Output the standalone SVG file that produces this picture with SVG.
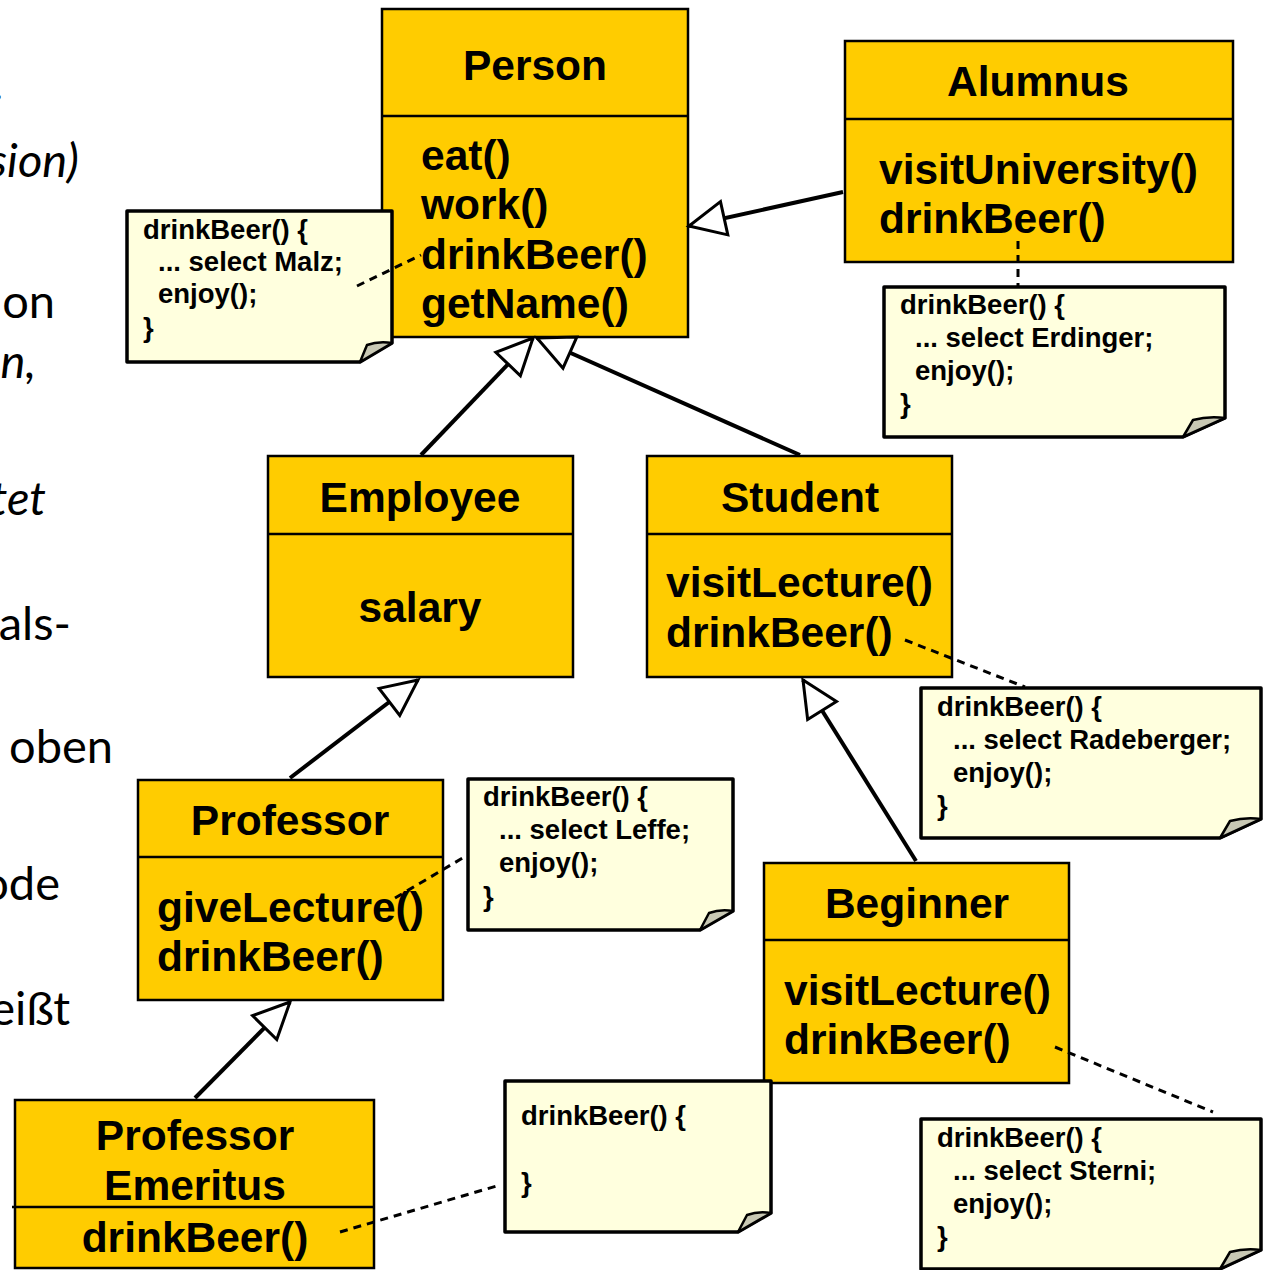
<svg xmlns="http://www.w3.org/2000/svg" width="1263" height="1270" viewBox="0 0 1263 1270">
<defs>
<style>
.box{fill:#FFCC00;stroke:#000;stroke-width:2.5}
.div{stroke:#000;stroke-width:2.5}
.t{font-family:"Liberation Sans",Arial,sans-serif;font-weight:bold;font-size:42.5px;fill:#000}
.c{text-anchor:middle}
.note{fill:#FFFFDE;stroke:#000;stroke-width:3.5;stroke-linejoin:round}
.fold{fill:#C8C8B4;stroke:#000;stroke-width:2.5;stroke-linejoin:round}
.n{font-family:"Liberation Sans",Arial,sans-serif;font-weight:bold;font-size:27.5px;fill:#000}
.inh{stroke:#000;stroke-width:4;fill:none;marker-end:url(#tri)}
.dash{stroke:#000;stroke-width:3;fill:none;stroke-dasharray:8 6}
.side{font-family:Lato,"Open Sans",sans-serif;font-size:47px;fill:#000;text-anchor:end}
</style>
<marker id="tri" viewBox="0 0 40 40" refX="37" refY="20" markerWidth="40" markerHeight="40" markerUnits="userSpaceOnUse" orient="auto" overflow="visible">
<path d="M37,20 L1,3 L1,37 Z" fill="#fff" stroke="#000" stroke-width="3" stroke-linejoin="miter"/>
</marker>
</defs>
<rect width="1263" height="1270" fill="#fff"/>

<g id="sidetext">
<text class="side" x="3" y="100">.</text>
<text class="side" x="79" y="177" font-style="italic">sion)</text>
<text class="side" x="55" y="318">on</text>
<text class="side" x="36" y="378" font-style="italic">n,</text>
<text class="side" x="46" y="515" font-style="italic">tet</text>
<text class="side" x="71" y="640">als-</text>
<text class="side" x="113" y="763">oben</text>
<text class="side" x="60" y="900">ode</text>
<text class="side" x="70" y="1025">eißt</text>
</g>

<g id="Person">
<rect class="box" x="382" y="9" width="306" height="328"/>
<line class="div" x1="382" y1="116" x2="688" y2="116"/>
<text class="t c" x="535" y="80">Person</text>
<text class="t" x="421" y="170">eat()</text>
<text class="t" x="421" y="219">work()</text>
<text class="t" x="421" y="269">drinkBeer()</text>
<text class="t" x="421" y="318">getName()</text>
</g>

<g id="Alumnus">
<rect class="box" x="845" y="41" width="388" height="221"/>
<line class="div" x1="845" y1="119" x2="1233" y2="119"/>
<text class="t c" x="1038" y="96">Alumnus</text>
<text class="t" x="879" y="184">visitUniversity()</text>
<text class="t" x="879" y="233">drinkBeer()</text>
</g>

<g id="Employee">
<rect class="box" x="268" y="456" width="305" height="221"/>
<line class="div" x1="268" y1="534" x2="573" y2="534"/>
<text class="t c" x="420" y="512">Employee</text>
<text class="t c" x="420" y="622">salary</text>
</g>

<g id="Student">
<rect class="box" x="647" y="456" width="305" height="221"/>
<line class="div" x1="647" y1="534" x2="952" y2="534"/>
<text class="t c" x="800" y="512">Student</text>
<text class="t" x="666" y="597">visitLecture()</text>
<text class="t" x="666" y="647">drinkBeer()</text>
</g>

<g id="Professor">
<rect class="box" x="138" y="780" width="305" height="220"/>
<line class="div" x1="138" y1="857" x2="443" y2="857"/>
<text class="t c" x="290" y="835">Professor</text>
<text class="t" x="157" y="922">giveLecture()</text>
<text class="t" x="157" y="971">drinkBeer()</text>
</g>

<g id="Beginner">
<rect class="box" x="764" y="863" width="305" height="220"/>
<line class="div" x1="764" y1="940" x2="1069" y2="940"/>
<text class="t c" x="917" y="918">Beginner</text>
<text class="t" x="784" y="1005">visitLecture()</text>
<text class="t" x="784" y="1054">drinkBeer()</text>
</g>

<g id="ProfessorEmeritus">
<rect class="box" x="15" y="1100" width="359" height="168"/>
<line class="div" x1="12" y1="1207" x2="374" y2="1207"/>
<text class="t c" x="195" y="1150">Professor</text>
<text class="t c" x="195" y="1200">Emeritus</text>
<text class="t c" x="195" y="1252">drinkBeer()</text>
</g>

<g id="noteMalz">
<path class="note" d="M127,211 H392 V343 L360,362 H127 Z"/>
<path class="fold" d="M360,362 L367,345 Q378,341 392,343 Z"/>
<text class="n" x="143" y="239">drinkBeer() {</text>
<text class="n" x="158" y="271">... select Malz;</text>
<text class="n" x="158" y="303">enjoy();</text>
<text class="n" x="143" y="337">}</text>
</g>

<g id="noteErdinger">
<path class="note" d="M884,287 H1225 V418 L1183,437 H884 Z"/>
<path class="fold" d="M1183,437 L1193,420 Q1208,416 1225,418 Z"/>
<text class="n" x="900" y="314">drinkBeer() {</text>
<text class="n" x="915" y="347">... select Erdinger;</text>
<text class="n" x="915" y="380">enjoy();</text>
<text class="n" x="900" y="413">}</text>
</g>

<g id="noteRadeberger">
<path class="note" d="M921,688 H1261 V819 L1220,838 H921 Z"/>
<path class="fold" d="M1220,838 L1230,821 Q1245,817 1261,819 Z"/>
<text class="n" x="937" y="716">drinkBeer() {</text>
<text class="n" x="953" y="749">... select Radeberger;</text>
<text class="n" x="953" y="782">enjoy();</text>
<text class="n" x="937" y="815">}</text>
</g>

<g id="noteLeffe">
<path class="note" d="M468,779 H733 V911 L700,930 H468 Z"/>
<path class="fold" d="M700,930 L709,913 Q720,909 733,911 Z"/>
<text class="n" x="483" y="806">drinkBeer() {</text>
<text class="n" x="499" y="839">... select Leffe;</text>
<text class="n" x="499" y="872">enjoy();</text>
<text class="n" x="483" y="906">}</text>
</g>

<g id="noteEmpty">
<path class="note" d="M505,1081 H771 V1213 L738,1232 H505 Z"/>
<path class="fold" d="M738,1232 L747,1215 Q758,1211 771,1213 Z"/>
<text class="n" x="521" y="1125">drinkBeer() {</text>
<text class="n" x="521" y="1192">}</text>
</g>

<g id="noteSterni">
<path class="note" d="M921,1119 H1261 V1250 L1220,1269 H921 Z"/>
<path class="fold" d="M1220,1269 L1230,1252 Q1245,1248 1261,1250 Z"/>
<text class="n" x="937" y="1147">drinkBeer() {</text>
<text class="n" x="953" y="1180">... select Sterni;</text>
<text class="n" x="953" y="1213">enjoy();</text>
<text class="n" x="937" y="1246">}</text>
</g>

<g id="connectors">
<line class="inh" x1="843" y1="192" x2="689" y2="226"/>
<line class="inh" x1="421" y1="455" x2="533" y2="338"/>
<line class="inh" x1="800" y1="455" x2="537" y2="338"/>
<line class="inh" x1="290" y1="778" x2="418" y2="680"/>
<line class="inh" x1="195" y1="1098" x2="290" y2="1002"/>
<line class="inh" x1="916" y1="861" x2="803" y2="680"/>
<line class="dash" x1="357" y1="286" x2="421" y2="255"/>
<line class="dash" x1="1018" y1="241" x2="1018" y2="286"/>
<line class="dash" x1="905" y1="640" x2="1025" y2="687"/>
<line class="dash" x1="395" y1="898" x2="466" y2="856"/>
<line class="dash" x1="1055" y1="1047" x2="1213" y2="1112"/>
<line class="dash" x1="340" y1="1232" x2="500" y2="1185"/>
</g>
</svg>
